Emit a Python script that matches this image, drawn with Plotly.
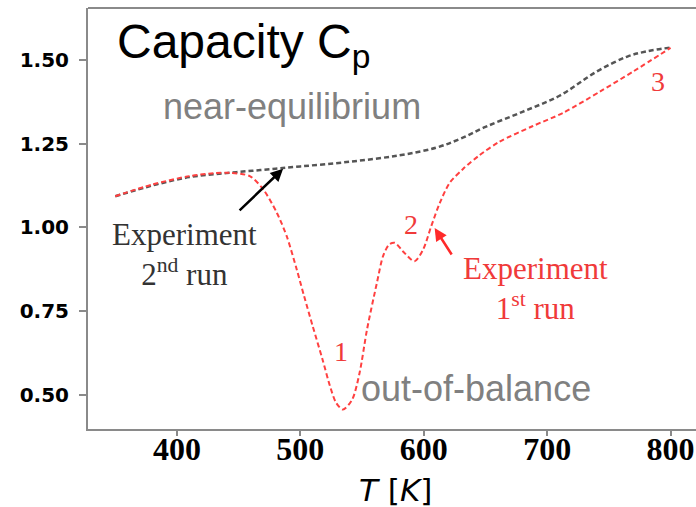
import plotly.graph_objects as go

# Temperature grid and heat capacity, 2nd run (near-equilibrium)
t_run2 = [350, 380, 410, 440, 470, 500, 540, 580, 610, 630, 650, 680, 710, 740, 765, 780, 800]
cp_run2 = [1.093, 1.125, 1.150, 1.162, 1.172, 1.182, 1.196, 1.215, 1.238, 1.265, 1.300,
           1.345, 1.393, 1.465, 1.510, 1.525, 1.537]

# Heat capacity, 1st run (out-of-balance)
t_run1 = [350, 380, 410, 430, 443, 459, 470, 481, 489, 497, 503, 510, 518, 524, 529, 534.5,
          542, 548, 554, 562, 567, 572, 576.5, 583, 592.5, 599.5, 606, 613, 621, 632, 645,
          661, 688, 713, 743, 770, 800]
cp_run1 = [1.093, 1.128, 1.153, 1.162, 1.163, 1.153, 1.113, 1.043, 0.973, 0.875, 0.795,
           0.705, 0.605, 0.526, 0.476, 0.456, 0.486, 0.566, 0.695, 0.834, 0.914, 0.949,
           0.954, 0.929, 0.899, 0.934, 1.003, 1.073, 1.133, 1.175, 1.215, 1.255, 1.302,
           1.342, 1.406, 1.466, 1.536]

x_ticks = [400, 500, 600, 700, 800]
y_ticks = [0.50, 0.75, 1.00, 1.25, 1.50]
y_tick_labels = ["0.50", "0.75", "1.00", "1.25", "1.50"]

RED = "#ff4040"
GRAY_LINE = "#555555"
AXIS = "#8a8a8a"
SERIF = "Liberation Serif"

fig = go.Figure()
fig.add_trace(go.Scatter(
    x=t_run2, y=cp_run2, mode="lines",
    line=dict(color=GRAY_LINE, width=2.5, dash="5px,3px", shape="spline", smoothing=1.0),
    showlegend=False, hoverinfo="skip"))
fig.add_trace(go.Scatter(
    x=t_run1, y=cp_run1, mode="lines",
    line=dict(color=RED, width=2, dash="5px,3px", shape="spline", smoothing=0.8),
    showlegend=False, hoverinfo="skip"))

fig.update_layout(
    width=696, height=507,
    margin=dict(l=88, r=0, t=8, b=78),
    paper_bgcolor="white", plot_bgcolor="white",
    xaxis=dict(
        range=[327.9, 820.6], tickvals=x_ticks, ticks="outside", ticklen=5,
        tickcolor=AXIS, tickwidth=1.5, showline=True, linecolor=AXIS, linewidth=2,
        showgrid=False, zeroline=False, ticklabelstandoff=-14,
        tickfont=dict(family=SERIF, size=32, color="black", weight="bold")),
    yaxis=dict(
        range=[0.398, 1.655], tickvals=y_ticks, ticktext=y_tick_labels,
        ticks="outside", ticklen=7, tickcolor=AXIS, tickwidth=1.5,
        showline=True, linecolor=AXIS, linewidth=2, showgrid=False, zeroline=False,
        ticklabelstandoff=6,
        tickfont=dict(family="DejaVu Sans", size=20, color="black", weight="bold")),
)

# Top frame line
fig.add_shape(type="line", xref="paper", yref="paper", x0=0, x1=1, y0=1, y1=1,
              line=dict(color=AXIS, width=2))

# Heading and regime labels
fig.add_annotation(text="Capacity C<sub>p</sub>", xref="paper", yref="paper",
                   x=(115 - 88) / 608, y=(429 - 45) / 421, xanchor="left", yanchor="middle",
                   showarrow=False, font=dict(family="Liberation Sans", size=48, color="black"))
fig.add_annotation(text="near-equilibrium", xref="paper", yref="paper",
                   x=(292 - 88) / 608, y=(429 - 106) / 421, xanchor="center", yanchor="middle",
                   showarrow=False, font=dict(family="Liberation Sans", size=36, color="#808080"))
fig.add_annotation(text="out-of-balance", xref="paper", yref="paper",
                   x=(476 - 88) / 608, y=(429 - 388) / 421, xanchor="center", yanchor="middle",
                   showarrow=False, font=dict(family="Liberation Sans", size=36, color="#808080"))

# Axis title
fig.add_annotation(text="<i>T</i> [<i>K</i>]", xref="paper", yref="paper",
                   x=(395 - 88) / 608, y=(429 - 490) / 421, xanchor="center", yanchor="middle",
                   showarrow=False, font=dict(family="DejaVu Sans", size=31, color="black"))

# Run labels with arrows
fig.add_annotation(x=486, y=1.175, ax=-45, ay=43, text="", showarrow=True,
                   arrowhead=2, arrowsize=1, arrowwidth=2.5, arrowcolor="black")
fig.add_annotation(text="Experiment<br>2<sup>nd</sup> run", xref="paper", yref="paper",
                   x=(184 - 88) / 608, y=(429 - 255) / 421, xanchor="center", yanchor="middle",
                   showarrow=False, align="center",
                   font=dict(family=SERIF, size=31, color="#333333"))
fig.add_annotation(x=608.8, y=0.998, ax=18, ay=28, text="", showarrow=True,
                   arrowhead=2, arrowsize=1, arrowwidth=2.5, arrowcolor="#ff2a2a")
fig.add_annotation(text="Experiment<br>1<sup>st</sup> run", xref="paper", yref="paper",
                   x=(535 - 88) / 608, y=(429 - 288) / 421, xanchor="center", yanchor="middle",
                   showarrow=False, align="center",
                   font=dict(family=SERIF, size=31, color="#f03a3a"))

# Feature markers along the 1st run
for label, tx, ty in [("1", 533, 0.63), ("2", 590, 1.008), ("3", 790, 1.435)]:
    fig.add_annotation(text=label, x=tx, y=ty, showarrow=False,
                       font=dict(family=SERIF, size=28, color="#f03a3a"))

fig.write_html("out.html")
